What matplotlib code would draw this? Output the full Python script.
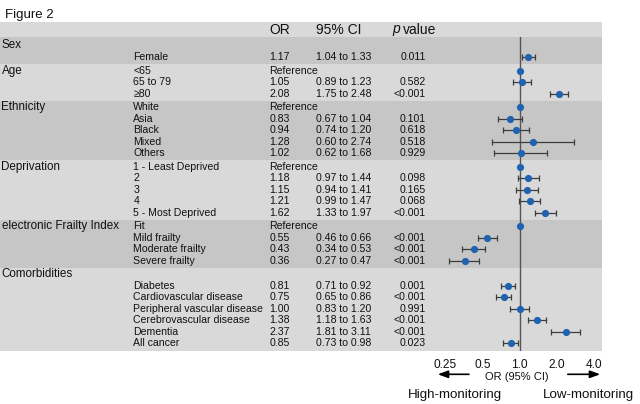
import numpy as np
import matplotlib
matplotlib.use("Agg")
import matplotlib.pyplot as plt

plt.rcParams['font.family'] = ['Liberation Sans', 'DejaVu Sans']

# ---------------- data ----------------
group_names = ["Sex", "Age", "Ethnicity", "Deprivation",
               "electronic Frailty Index", "Comorbidities"]

row_group = [0, 0,
             1, 1, 1,
             2, 2, 2, 2, 2,
             3, 3, 3, 3, 3,
             4, 4, 4, 4,
             5, 5, 5, 5, 5, 5, 5]
row_labels = ["", "Female",
              "<65", "65 to 79", "\u226580",
              "White", "Asia", "Black", "Mixed", "Others",
              "1 - Least Deprived", "2", "3", "4", "5 - Most Deprived",
              "Fit", "Mild frailty", "Moderate frailty", "Severe frailty",
              "", "Diabetes", "Cardiovascular disease", "Peripheral vascular disease",
              "Cerebrovascular disease", "Dementia", "All cancer"]
is_reference = [False, False,
                True, False, False,
                True, False, False, False, False,
                True, False, False, False, False,
                True, False, False, False,
                False, False, False, False, False, False, False]
nan = np.nan
or_est = [nan, 1.17,
          1.00, 1.05, 2.08,
          1.00, 0.83, 0.94, 1.28, 1.02,
          1.00, 1.18, 1.15, 1.21, 1.62,
          1.00, 0.55, 0.43, 0.36,
          nan, 0.81, 0.75, 1.00, 1.38, 2.37, 0.85]
ci_low = [nan, 1.04,
          nan, 0.89, 1.75,
          nan, 0.67, 0.74, 0.60, 0.62,
          nan, 0.97, 0.94, 0.99, 1.33,
          nan, 0.46, 0.34, 0.27,
          nan, 0.71, 0.65, 0.83, 1.18, 1.81, 0.73]
ci_high = [nan, 1.33,
           nan, 1.23, 2.48,
           nan, 1.04, 1.20, 2.74, 1.68,
           nan, 1.44, 1.41, 1.47, 1.97,
           nan, 0.66, 0.53, 0.47,
           nan, 0.92, 0.86, 1.20, 1.63, 3.11, 0.98]
p_text = ["", "0.011",
          "", "0.582", "<0.001",
          "", "0.101", "0.618", "0.518", "0.929",
          "", "0.098", "0.165", "0.068", "<0.001",
          "", "<0.001", "<0.001", "<0.001",
          "", "0.001", "<0.001", "0.991", "<0.001", "<0.001", "0.023"]

tick_values = [0.25, 0.5, 1.0, 2.0, 4.0]
tick_labels = ["0.25", "0.5", "1.0", "2.0", "4.0"]

# ---------------- layout (pixel units) ----------------
W, H = 640, 404
fig = plt.figure(figsize=(W / 100, H / 100), dpi=100)
bg = fig.add_axes([0, 0, 1, 1])
bg.set_xlim(0, W)
bg.set_ylim(H, 0)
bg.axis('off')

light, dark = '#d9d9d9', '#c6c6c6'
panel_right = 602
header_top, header_bot = 22, 37
row_h, pad = 11.5, 1.0

n_groups = len(group_names)
row_y = np.zeros(len(row_labels))
bands = []
y = header_bot
for g in range(n_groups):
    idx = [i for i, gg in enumerate(row_group) if gg == g]
    top = y
    extra = 1.0 if g == 0 else 0.0
    for k, i in enumerate(idx):
        row_y[i] = top + pad + extra + (k + 0.5) * row_h + (1.0 if (g == 0 and k > 0) else 0.0)
    bottom = top + len(idx) * row_h + 2 * pad + 2 * extra
    if g == n_groups - 1:
        bottom += 1
    bands.append((top, bottom))
    y = bottom
panel_bottom = y

bg.add_patch(plt.Rectangle((0, header_top), panel_right, header_bot - header_top,
                           facecolor=light, edgecolor='none', zorder=0))
for g, (t, b) in enumerate(bands):
    bg.add_patch(plt.Rectangle((0, t), panel_right, b - t,
                               facecolor=dark if g % 2 == 0 else light,
                               edgecolor='none', zorder=0))

txt = '#111111'
bg.text(5, 15, "Figure 2", fontsize=9.5, va='center', ha='left', color=txt)

hy = 29.5
bg.text(269.5, hy, "OR", fontsize=10, va='center', ha='left', color=txt)
bg.text(316, hy, "95% CI", fontsize=10, va='center', ha='left', color=txt)
bg.text(392, hy, "p", fontsize=10, va='center', ha='left', style='italic', color=txt)
bg.text(403, hy, "value", fontsize=10, va='center', ha='left', color=txt)

col_group, col_item, col_or, col_ci, col_p = 1.5, 133.3, 269.5, 316, 426
fs = 7.6

for g in range(n_groups):
    first = [i for i, gg in enumerate(row_group) if gg == g][0]
    bg.text(col_group, row_y[first], group_names[g], fontsize=8.4,
            va='center', ha='left', color=txt)

for i, lab in enumerate(row_labels):
    yy = row_y[i]
    if lab:
        bg.text(col_item, yy, lab, fontsize=fs, va='center', ha='left', color=txt)
    if is_reference[i]:
        bg.text(col_or, yy, "Reference", fontsize=fs, va='center', ha='left', color=txt)
    elif not np.isnan(or_est[i]):
        bg.text(col_or, yy, f"{or_est[i]:.2f}", fontsize=fs, va='center', ha='left', color=txt)
        bg.text(col_ci, yy, f"{ci_low[i]:.2f} to {ci_high[i]:.2f}", fontsize=fs,
                va='center', ha='left', color=txt)
        bg.text(col_p, yy, p_text[i], fontsize=fs, va='center', ha='right', color=txt)

# ---------------- forest axes ----------------
x_one, per_doubling = 519.5, 37.2
ax_left = 436
xmin = 2 ** ((ax_left - x_one) / per_doubling)
xmax = 2 ** ((panel_right - x_one) / per_doubling)
ax = fig.add_axes([ax_left / W, 1 - panel_bottom / H,
                   (panel_right - ax_left) / W, (panel_bottom - header_bot) / H])
ax.set_xscale('log')
ax.set_xlim(xmin, xmax)
ax.set_ylim(panel_bottom, header_bot)
ax.patch.set_alpha(0)
for s in ax.spines.values():
    s.set_visible(False)
ax.set_yticks([])
ax.set_xticks(tick_values)
ax.set_xticklabels(tick_labels, fontsize=8.6, color=txt)
ax.xaxis.set_minor_locator(matplotlib.ticker.NullLocator())
ax.tick_params(axis='x', length=0, pad=5.5)

ax.axvline(1.0, color='#555555', lw=1.0, zorder=1)

est = np.array(or_est)
lo = np.array(ci_low)
hi = np.array(ci_high)
has_ci = ~np.isnan(lo)
ax.errorbar(est[has_ci], row_y[has_ci],
            xerr=[est[has_ci] - lo[has_ci], hi[has_ci] - est[has_ci]],
            fmt='none', ecolor='#3c3c3c', elinewidth=0.9, capsize=2.0,
            capthick=0.9, zorder=2)
has_pt = ~np.isnan(est)
ax.plot(est[has_pt], row_y[has_pt], 'o', color='#1f63b0', markersize=5.2,
        markeredgewidth=0, zorder=3)

bg.text(516.7, 377, "OR (95% CI)", fontsize=8, va='center', ha='center', color=txt)
arrow_kw = dict(arrowstyle='-|>,head_length=0.6,head_width=0.22', color='black', lw=1.2)
bg.annotate("", xy=(435, 374.3), xytext=(471.7, 374.3), arrowprops=arrow_kw)
bg.annotate("", xy=(603, 374.3), xytext=(565, 374.3), arrowprops=arrow_kw)
bg.text(454.5, 395, "High-monitoring", fontsize=9.6, va='center', ha='center', color=txt)
bg.text(588, 395, "Low-monitoring", fontsize=9.6, va='center', ha='center', color=txt)

fig.savefig("out.png", dpi=100)
